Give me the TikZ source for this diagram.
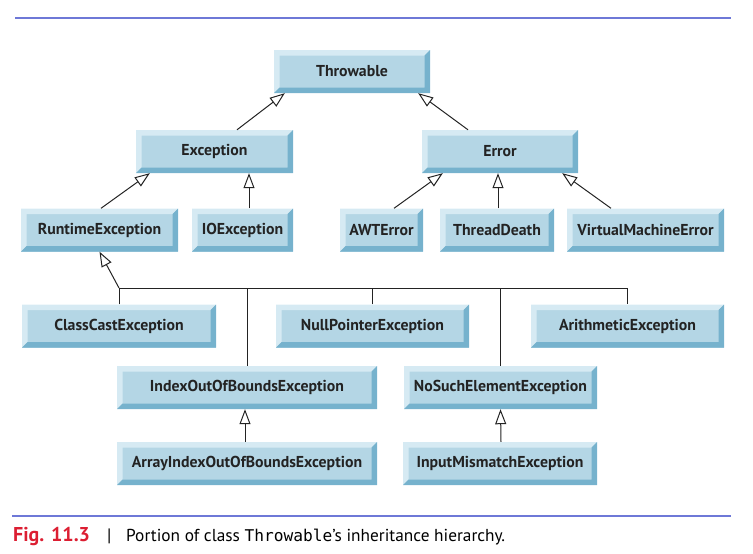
\documentclass[tikz,border=0pt]{standalone}
\usepackage{fontspec}
\setmainfont{PT Sans}
\setmonofont{DejaVu Sans Mono}
\usetikzlibrary{arrows.meta}
\definecolor{boxface}{RGB}{180,214,229}
\definecolor{boxlight}{RGB}{214,234,243}
\definecolor{boxdark}{RGB}{118,178,205}
\definecolor{boxtext}{RGB}{35,35,35}
\definecolor{rule}{RGB}{110,120,215}
\definecolor{figred}{RGB}{220,30,50}
\newcommand{\bev}{5.5pt}
\begin{document}
\begin{tikzpicture}[x=1pt,y=-1pt,
  cls/.style={minimum height=43pt, inner sep=0pt, fill=boxface, text=boxtext,
    font=\bfseries\fontsize{15.8}{18}\selectfont,
    path picture={
      \fill[boxlight] (path picture bounding box.south west) -- (path picture bounding box.north west)
        -- (path picture bounding box.north east) -- ([xshift=-\bev,yshift=-\bev]path picture bounding box.north east)
        -- ([xshift=\bev,yshift=-\bev]path picture bounding box.north west)
        -- ([xshift=\bev,yshift=\bev]path picture bounding box.south west) -- cycle;
      \fill[boxdark] (path picture bounding box.south west) -- (path picture bounding box.south east)
        -- (path picture bounding box.north east) -- ([xshift=-\bev,yshift=-\bev]path picture bounding box.north east)
        -- ([xshift=-\bev,yshift=\bev]path picture bounding box.south east)
        -- ([xshift=\bev,yshift=\bev]path picture bounding box.south west) -- cycle;
    }},
  inh/.style={-{Triangle[open,width=11pt,length=15pt]}, line width=1pt, draw=boxtext},
  bus/.style={line width=1pt, draw=boxtext}]
\useasboundingbox (0,0) rectangle (753,554);
\draw[rule, line width=1.4pt] (15,18) -- (731,18);
\draw[rule, line width=1.4pt] (12,516) -- (731,516);
% classes
\node[cls, minimum width=156pt] (thr) at (352,71.5) {Throwable};
\node[cls, minimum width=157pt] (exc) at (214.5,151.5) {Exception};
\node[cls, minimum width=156pt] (err) at (500,151.5) {Error};
\node[cls, minimum width=157pt] (rte) at (99.5,230) {RuntimeException};
\node[cls, minimum width=101pt] (ioe) at (242.5,230) {IOException};
\node[cls, minimum width=83pt] (awt) at (381.5,230) {AWTError};
\node[cls, minimum width=114pt] (td) at (497,230) {ThreadDeath};
\node[cls, minimum width=157pt] (vme) at (645.5,230) {VirtualMachineError};
\node[cls, minimum width=194pt] (cce) at (119,326) {ClassCastException};
\node[cls, minimum width=193pt] (npe) at (372.5,326) {NullPointerException};
\node[cls, minimum width=193pt] (ae) at (627.5,326) {ArithmeticException};
\node[cls, minimum width=260pt] (ioob) at (247,387.5) {IndexOutOfBoundsException};
\node[cls, minimum width=193pt] (nse) at (500.5,387.5) {NoSuchElementException};
\node[cls, minimum width=260pt] (aioob) at (247,463.5) {ArrayIndexOutOfBoundsException};
\node[cls, minimum width=194pt] (ime) at (500,463.5) {InputMismatchException};
% inheritance
\draw[inh] ([xshift=22.5pt]exc.north) -- ([xshift=11pt]thr.south west);
\draw[inh] ([xshift=-32pt]err.north) -- ([xshift=-12pt]thr.south east);
\draw[inh] ([xshift=1.5pt]rte.north) -- ([xshift=14pt]exc.south west);
\draw[inh] ([xshift=6.5pt]ioe.north) -- ([xshift=34.5pt]exc.south);
\draw[inh] ([xshift=12.5pt]awt.north) -- ([xshift=21pt]err.south west);
\draw[inh] ([xshift=1pt]td.north) -- ([xshift=-2pt]err.south);
\draw[inh] ([xshift=-34.5pt]vme.north) -- ([xshift=-16pt]err.south east);
\draw[inh] ([xshift=-2pt]aioob.north) -- ([xshift=-2pt]ioob.south);
\draw[inh] ([xshift=1pt]ime.north) -- (nse.south);
% runtime subclasses
\coordinate (split) at (cce.north |- 0,288);
\draw[bus] (cce.north) -- (split) -| (ae.north);
\draw[bus] (ioob.north) -- (ioob.north |- split);
\draw[bus] (npe.north) -- (npe.north |- split);
\draw[bus] (nse.north) -- (nse.north |- split);
\draw[inh] (split) -- (rte.south);
% caption
\node[anchor=base west, inner sep=0pt, text=figred, font=\bfseries\fontsize{20}{24}\selectfont] (fig) at (13,541) {Fig. 11.3};
\node[anchor=base west, inner sep=0pt, font=\fontsize{18}{20}\selectfont] (bar) at (107,541) {|};
\node[anchor=base west, inner sep=0pt, font=\fontsize{17.3}{20}\selectfont] (cap) at (126,541) {Portion of class {\fontsize{16.2}{20}\selectfont\ttfamily Throwable}'s inheritance hierarchy.};
\end{tikzpicture}
\end{document}
